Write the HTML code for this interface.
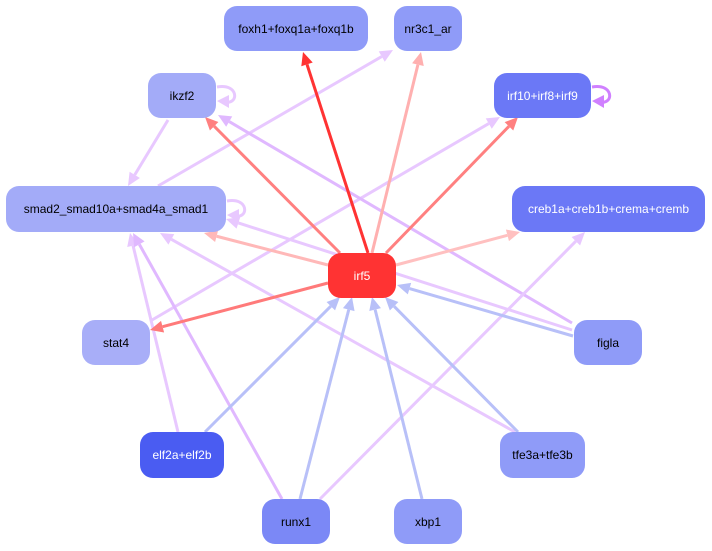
<!DOCTYPE html>
<html><head><meta charset="utf-8"><style>
body{margin:0;background:#fff;width:712px;height:551px;overflow:hidden}
svg{position:absolute;left:0;top:0}
.n{position:absolute;border-radius:13px;display:flex;align-items:center;justify-content:center;font:12px "Liberation Sans",sans-serif;color:#000;box-sizing:border-box}
.w{color:#fff}
</style></head><body>
<svg id="s" width="712" height="551"></svg>
<div class="n" style="left:224px;top:6px;width:144px;height:45px;background:#8f9bf8">foxh1+foxq1a+foxq1b</div>
<div class="n" style="left:394px;top:6px;width:68px;height:45px;background:#8f9bf8">nr3c1_ar</div>
<div class="n" style="left:148px;top:73px;width:68px;height:45px;background:#a3abf8">ikzf2</div>
<div class="n w" style="left:494px;top:73px;width:97px;height:45px;background:#6b78f6">irf10+irf8+irf9</div>
<div class="n" style="left:6px;top:186px;width:220px;height:46px;background:#a3abf8">smad2_smad10a+smad4a_smad1</div>
<div class="n w" style="left:512px;top:186px;width:193px;height:46px;background:#6b78f6">creb1a+creb1b+crema+cremb</div>
<div class="n w" style="left:328px;top:253px;width:68px;height:45px;background:#ff3333">irf5</div>
<div class="n" style="left:82px;top:320px;width:68px;height:45px;background:#a8aef8">stat4</div>
<div class="n" style="left:574px;top:320px;width:68px;height:45px;background:#8f9bf8">figla</div>
<div class="n w" style="left:140px;top:432px;width:84px;height:46px;background:#4a5cf2">elf2a+elf2b</div>
<div class="n" style="left:500px;top:432px;width:85px;height:46px;background:#8f9bf8">tfe3a+tfe3b</div>
<div class="n" style="left:262px;top:499px;width:68px;height:45px;background:#7b88f6">runx1</div>
<div class="n" style="left:394px;top:499px;width:68px;height:45px;background:#8f9bf8">xbp1</div>
<script>
var s=document.getElementById('s'),NS='http://www.w3.org/2000/svg';
function e(x1,y1,x2,y2,c){var dx=x2-x1,dy=y2-y1,L=Math.hypot(dx,dy),ux=dx/L,uy=dy/L,h=13,w=6;
var bx=x2-ux*h,by=y2-uy*h;
var l=document.createElementNS(NS,'line');l.setAttribute('x1',x1);l.setAttribute('y1',y1);l.setAttribute('x2',bx);l.setAttribute('y2',by);l.setAttribute('stroke',c);l.setAttribute('stroke-width',3);s.appendChild(l);
var p=document.createElementNS(NS,'polygon');p.setAttribute('points',x2+','+y2+' '+(bx-uy*w)+','+(by+ux*w)+' '+(bx+uy*w)+','+(by-ux*w));p.setAttribute('fill',c);s.appendChild(p);}
function loop(x,y,c){var p=document.createElementNS(NS,'path');p.setAttribute('d','M'+x+','+(y-8)+' C'+(x+22)+','+(y-12)+' '+(x+22)+','+(y+10)+' '+(x+8)+','+(y+7));p.setAttribute('fill','none');p.setAttribute('stroke',c);p.setAttribute('stroke-width',3);s.appendChild(p);
var q=document.createElementNS(NS,'polygon');q.setAttribute('points',x+','+(y+6)+' '+(x+12)+','+(y+0)+' '+(x+12)+','+(y+13));q.setAttribute('fill',c);s.appendChild(q);}
var P='#e8c8ff',P2='#e0b8ff',B='#b8c0f8';
e(152,320,500,117,P);e(158,186,393,50,P);e(168,120,128,186,P);
e(572,323,218,115,P2);e(572,330,226,219,P);e(515,432,160,233,P);
e(178,432,130,233,P);e(282,499,133,233,P2);e(320,499,585,232,P);
e(368,253,303,52,'#ff3333');e(372,253,421,52,'#ffb0b0');e(340,253,205,117,'#ff8080');
e(386,253,518,117,'#ff8080');e(328,265,204,233,'#ffb8b8');e(396,265,520,232,'#ffc0c0');e(328,283,150,330,'#ff7a7a');
e(573,336,397,285,B);e(518,432,385,297,B);e(205,432,340,297,B);e(300,499,352,297,B);e(422,499,372,297,B);
loop(217,95,P);loop(227,209,P);loop(592,95,'#d080ff');
</script>
</body></html>
